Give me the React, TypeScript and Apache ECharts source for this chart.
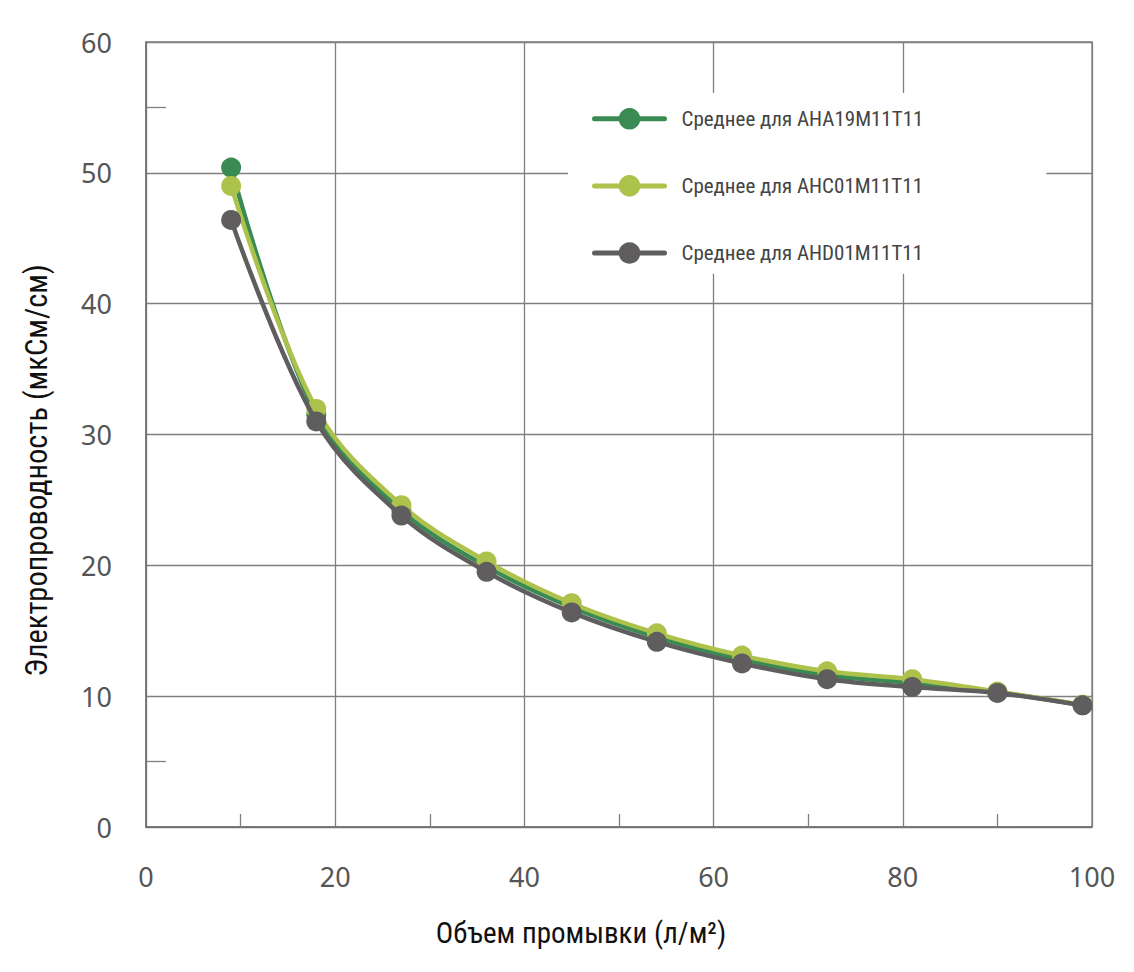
import React, { useEffect, useRef } from "react";
import * as echarts from "echarts";

const xValues = [9, 18, 27, 36, 45, 54, 63, 72, 81, 90, 99];
const ahaValues = [50.4, 31.5, 24.2, 19.9, 16.8, 14.5, 12.8, 11.6, 11.0, 10.3, 9.3];
const ahcValues = [49.0, 31.95, 24.6, 20.3, 17.1, 14.8, 13.1, 11.9, 11.3, 10.35, 9.35];
const ahdValues = [46.4, 31.0, 23.8, 19.5, 16.4, 14.15, 12.5, 11.3, 10.7, 10.25, 9.3];
const seriesNames = [
  "Среднее для AHA19M11T11",
  "Среднее для AHC01M11T11",
  "Среднее для AHD01M11T11",
];
const seriesColors = ["#3a8a53", "#adc24b", "#5f5d5e"];
const xMinorTicks = [10, 30, 50, 70, 90];
const yMinorTicks = [5, 55];
const xTitle = "Объем промывки (л/м²)";
const yTitle = "Электропроводность (мкСм/см)";

const narrowFont = "'Roboto Condensed', Roboto, sans-serif";
const tickFont = "'Noto Sans', 'Open Sans', sans-serif";

export default function App() {
  const ref = useRef<HTMLDivElement>(null);
  useEffect(() => {
    if (!ref.current) return;
    const chart = echarts.init(ref.current, undefined, { renderer: "svg" });
    const allValues = [ahaValues, ahcValues, ahdValues];
    const gridColor = "#7f7f7f";
    const option = {
      animation: false,
      backgroundColor: "#ffffff",
      grid: {
        left: 146,
        right: 42,
        top: 42,
        bottom: 145,
        show: true,
        borderColor: gridColor,
        borderWidth: 1.3,
        backgroundColor: "transparent",
      },
      legend: {
        orient: "vertical",
        left: 568,
        top: 93,
        backgroundColor: "#ffffff",
        padding: [15, 123, 10, 24],
        itemWidth: 70,
        itemHeight: 27,
        itemGap: 45.5,
        data: seriesNames,
        lineStyle: { width: 5, cap: "round" },
        textStyle: {
          fontFamily: narrowFont,
          fontSize: 21,
          color: "#444444",
          padding: [0, 0, 0, 12],
        },
      },
      xAxis: [
        {
          type: "value",
          min: 0,
          max: 100,
          interval: 20,
          axisLine: { show: true, lineStyle: { color: "#707070", width: 1.5 } },
          axisTick: { show: false },
          splitLine: { show: true, lineStyle: { color: gridColor, width: 1.3 } },
          axisLabel: { color: "#555555", fontSize: 27, fontFamily: tickFont, margin: 36 },
          name: xTitle,
          nameLocation: "middle",
          nameGap: 91,
          nameTextStyle: {
            fontFamily: narrowFont,
            fontSize: 29,
            color: "#111111",
            padding: [0, 76, 0, 0],
          },
        },
        {
          type: "value",
          min: 0,
          max: 100,
          position: "bottom",
          offset: 0,
          axisLine: { show: false },
          axisLabel: { show: false },
          splitLine: { show: false },
          axisTick: {
            show: true,
            inside: true,
            length: 13,
            customValues: xMinorTicks,
            lineStyle: { color: gridColor, width: 1.3 },
          },
        },
      ],
      yAxis: [
        {
          type: "value",
          min: 0,
          max: 60,
          interval: 10,
          axisLine: { show: true, lineStyle: { color: "#707070", width: 1.5 } },
          axisTick: { show: false },
          splitLine: { show: true, lineStyle: { color: gridColor, width: 1.3 } },
          axisLabel: { color: "#555555", fontSize: 27, fontFamily: tickFont, margin: 34 },
          name: yTitle,
          nameLocation: "middle",
          nameRotate: 90,
          nameGap: 94,
          nameTextStyle: {
            fontFamily: narrowFont,
            fontSize: 30.5,
            color: "#111111",
            padding: [0, 72, 0, 0],
          },
        },
        {
          type: "value",
          min: 0,
          max: 60,
          position: "left",
          offset: 0,
          axisLine: { show: false },
          axisLabel: { show: false },
          splitLine: { show: false },
          axisTick: {
            show: true,
            inside: true,
            length: 20,
            customValues: yMinorTicks,
            lineStyle: { color: gridColor, width: 1.3 },
          },
        },
      ],
      series: seriesNames.map((name, si) => ({
        name,
        type: "line",
        xAxisIndex: 0,
        yAxisIndex: 0,
        smooth: 0.35,
        symbol: "circle",
        symbolSize: 20,
        showSymbol: true,
        z: 2 + si,
        data: xValues.map((x, i) => [x, allValues[si][i]]),
        lineStyle: { color: seriesColors[si], width: 4.5 },
        itemStyle: { color: seriesColors[si] },
      })),
    };
    chart.setOption(option as any);
    return () => chart.dispose();
  }, []);
  return (
    <div
      ref={ref}
      style={{ position: "absolute", left: 0, top: 0, width: 1134, height: 972 }}
    />
  );
}
